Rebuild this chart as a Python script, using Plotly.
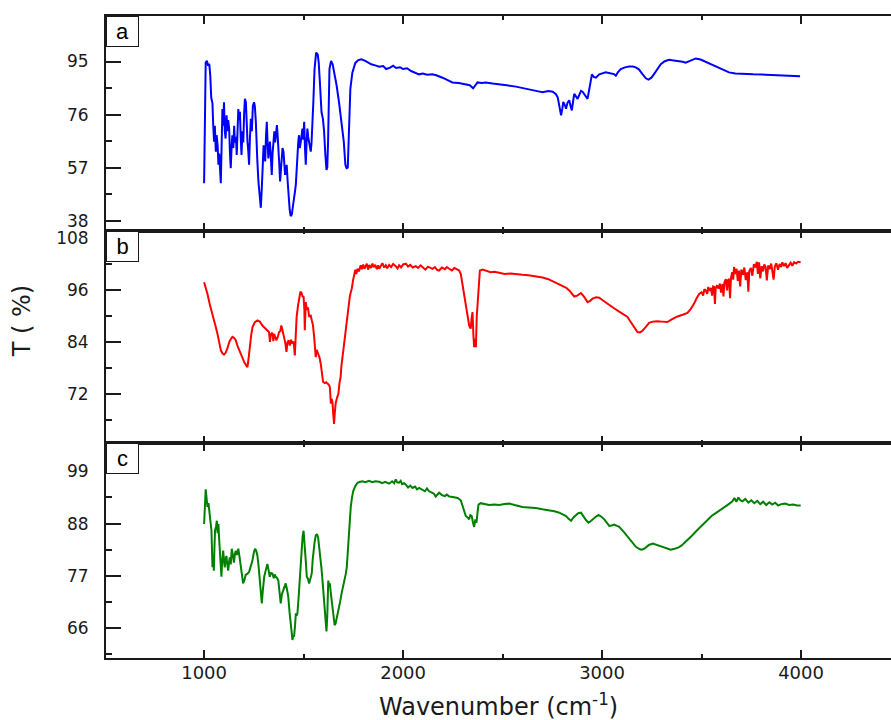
import plotly.graph_objects as go

# ---------------- data ----------------
wn_a = [1000,1003,1008,1014,1020,1026,1031,1036,1042,1046,1050,1054,1059,1063,1068,1072,1076,1084,1088,1092,
        1096,1100,1104,1108,1113,1117,1121,1126,1130,1134,1138,1142,1147,1151,1155,1160,1164,1168,1172,1176,
        1180,1184,1188,1193,1197,1201,1205,1210,1214,1218,1222,1226,1230,1235,1240,1245,1251,1255,1260,1263,
        1267,1273,1280,1285,1290,1295,1299,1303,1307,1311,1315,1319,1323,1327,1331,1336,1340,1344,1348,1353,
        1357,1361,1366,1370,1374,1378,1382,1386,1390,1394,1399,1403,1407,1411,1415,1420,1424,1430,1435,1441,
        1446,1450,1456,1461,1465,1469,1473,1477,1481,1486,1490,1494,1498,1503,1507,1511,1515,1519,1523,1528,
        1532,1536,1540,1544,1549,1555,1563,1571,1576,1582,1590,1597,1603,1609,1615,1619,1623,1630,1638,1646,
        1655,1666,1678,1691,1702,1710,1716,1722,1727,1735,1745,1760,1775,1790,1810,1840,1860,1880,1900,1915,
        1935,1950,1965,1985,2000,2020,2040,2060,2080,2100,2120,2148,2170,2198,2220,2248,2280,2315,2335,2352,
        2362,2374,2395,2416,2450,2483,2520,2567,2610,2651,2680,2701,2730,2752,2768,2777,2786,2794,2800,2805,
        2812,2819,2826,2835,2842,2848,2854,2860,2868,2877,2885,2894,2902,2910,2918,2927,2933,2939,2949,2958,
        2969,2986,3018,3040,3060,3069,3080,3094,3115,3136,3155,3169,3185,3203,3220,3233,3248,3261,3278,3295,
        3315,3337,3360,3387,3405,3420,3445,3471,3495,3521,3545,3571,3600,3638,3670,3705,3760,3822,3870,3923,
        3960,3995]
t_a = [51.4,67,94.6,95.3,93.5,94.2,90,82,80,72,66.3,72,62.7,68.6,65,58,62,51.4,66,78,
       72,80.4,70,67.4,75.7,70,74,71,62,56.8,64,68.6,64,72,66,68,61.5,70,78,74,
       77,68,61.5,70,66,76,81.6,80.4,72,66.3,63,58,67,74.5,70,79,80.4,79,73.4,66,
       60.3,52,44,42.6,49.7,58,65,62,59.2,68,73.4,66,60.3,64,66.3,60,54.4,62,67.4,70,
       66,70,72.2,68,64,58,52,57,61.5,64,62.7,58,54.4,56,58,52,46.1,42,39.6,40.2,
       43,46.1,48,50.9,57,61.5,66,68.6,64,66.3,69,71,67,73.4,64,58,66,71,68,66.3,
       64,62.7,66,71,80.4,92.3,98.2,97.5,94.6,87.5,76.9,74.5,70,62,56.2,57,66.3,92.3,95.2,94,
       91,86.4,80.4,73.4,66.3,58,56.8,57,71,85.2,91,94.5,95.5,95.8,95.2,94,93.6,93.1,93.4,92.3,
       92.8,93.5,92.7,92.9,92.3,92.6,91.6,90.9,90.4,90.7,90.3,90.4,90,89.2,88.4,87.5,87.3,86.9,86.5,85.4,
       86.2,87.5,87.3,87.5,87.1,86.9,86.5,86,85.3,84.5,84.3,84,84.4,84.2,83.3,82.2,79,75.7,78,80.5,
       79.5,78.1,80.2,81.1,79,77.5,80.5,83.4,82.6,81.6,83,84.5,84.2,83.4,82.3,81.6,84,86.9,90.4,89.5,
       89.2,90.4,91.1,90.8,90.5,89.9,91.2,92.3,92.9,93.2,93.2,92.9,92.2,90.5,89,88.5,89.2,90.5,92.4,94,
       95.1,95.6,95.4,95.2,94.9,94.6,95.3,96.1,95.7,94.9,94.1,93.2,92.2,91.1,90.7,90.5,90.4,90.3,90.1,89.9,
       89.8,89.7]

wn_b = [1000,1008,1017,1030,1042,1050,1059,1068,1075,1084,1092,1100,1108,1117,1128,1142,1150,1159,1168,1176,
        1188,1201,1210,1218,1224,1230,1237,1243,1255,1268,1280,1293,1305,1318,1326,1331,1335,1343,1348,1352,
        1358,1363,1370,1377,1383,1388,1394,1402,1408,1414,1419,1425,1431,1437,1444,1450,1456,1460,1465,1472,
        1478,1484,1490,1495,1500,1504,1506,1509,1511,1516,1522,1528,1535,1541,1547,1553,1557,1561,1566,1575,
        1580,1586,1592,1598,1606,1614,1620,1627,1632,1635,1637,1641,1645,1649,1653,1657,1661,1668,1675,1680,
        1686,1690,1695,1702,1708,1714,1720,1726,1732,1737,1742,1748,1754,1760,1765,1771,1778,1787,1793,1800,
        1806,1812,1818,1824,1830,1838,1846,1852,1860,1868,1875,1880,1888,1896,1905,1913,1920,1930,1940,1950,
        1963,1972,1980,1990,2000,2014,2025,2036,2048,2064,2075,2088,2100,2112,2125,2136,2148,2160,2172,2181,
        2195,2210,2220,2232,2245,2258,2270,2282,2290,2295,2301,2307,2314,2320,2326,2332,2337,2340,2344,2349,
        2353,2357,2362,2366,2370,2375,2379,2383,2386,2400,2416,2440,2460,2483,2510,2540,2567,2600,2630,2651,
        2680,2701,2730,2752,2780,2802,2820,2835,2848,2860,2875,2894,2910,2927,2940,2952,2970,2986,3010,3036,
        3060,3086,3110,3128,3140,3153,3166,3178,3190,3203,3220,3236,3255,3278,3300,3328,3350,3379,3405,3429,
        3445,3462,3475,3488,3500,3508,3514,3521,3528,3534,3540,3547,3553,3558,3563,3567,3571,3578,3585,3592,
        3598,3605,3610,3615,3622,3628,3633,3638,3643,3648,3654,3659,3663,3670,3676,3682,3688,3694,3700,3708,
        3715,3722,3730,3735,3740,3748,3755,3763,3770,3778,3783,3789,3795,3802,3809,3815,3822,3828,3835,3842,
        3850,3856,3862,3868,3876,3884,3892,3900,3906,3915,3922,3930,3939,3948,3956,3965,3975,3985,3998]
t_b = [97.9,96.8,95.2,92.5,90.6,89.3,87.5,85.8,84.5,82.2,81.5,81.2,81.6,82.6,84.3,85.3,85.1,84.5,83.2,82.2,
       80.8,79.5,78.8,78.3,80.5,83.7,85.8,87.5,88.7,89.1,88.8,87.9,87.3,86.8,86.4,84.1,85.9,86.2,84.3,86,
       85.4,84.5,85.2,86.4,86.6,87.9,86.8,85.3,83.9,81.8,84,84.5,83.3,84.6,83.7,84.2,81,85,89.9,92.5,
       94.5,95.7,95.4,94.6,94.5,91.5,86.8,91,93.3,91.5,92.1,89.9,90.4,89.1,88,85.3,83.6,80.6,82.3,81.4,
       80.5,79.1,77,74.9,74.6,74.8,74.5,74.2,73.7,71.5,69.9,71,70.2,67.5,65.2,67.8,69.9,71.2,72.2,74.5,
       76,78.5,80.6,83,85.3,87.6,89.9,92.3,94.5,95.6,96.4,98.2,99.5,100.8,99.8,101,100.4,101.8,100.9,102,
       101,101.5,102.2,100.8,101.9,101.2,102.2,101.4,101.9,100.9,101.8,101,101.7,102.3,101.3,101.8,101.1,101.9,101.4,102.1,
       101.6,101.1,101.8,101.3,102,102.2,101.5,101.9,101.3,101.6,101.2,101.8,101.3,100.8,101.5,101.2,101,101.4,100.7,100.6,
       101.3,100.9,101.4,101,100.6,101.2,100.9,100.6,99.8,98.3,96.3,94.5,92.6,90.6,89,87.9,87.4,87.2,89.5,91,
       86,82.9,84.8,82.9,89.8,93,95.6,98.5,100.6,100.8,100.6,100.2,100.3,100,99.8,99.9,99.7,99.6,99.5,99.4,
       99.2,99,98.6,98.1,97.6,97.1,96.6,96,95.3,94.6,94.8,95.4,94.5,93.3,93.6,94.1,94.4,94.3,93.5,92.6,
       91.9,91.1,90.4,89.9,89,88,87.1,86.4,86.3,86.7,87.6,88.5,88.8,88.9,88.8,88.7,89.3,90,90.4,90.8,
       91.7,92.9,94.2,95.2,95.6,94.8,96.3,96,95.2,96.8,95.9,96.6,94.8,96.9,96.8,92.9,96.5,97.2,96.4,97.6,
       95.5,97.5,94.6,97.9,98.6,96,98.4,98.7,94.2,98.9,100.2,98.5,101.4,99.8,101,98.2,100.6,96.9,100.8,99.6,
       101.3,98.4,100.2,95.7,100.5,101.2,99.4,102.1,101.3,102.6,99.8,102.5,98.8,101.6,100.4,102,101.4,98.3,101.8,100.9,
       102.2,100.6,98.5,101.5,102.3,100.8,102.1,101.4,102.5,101.6,102.3,101.2,101.8,102.4,101.7,102.5,102.2,102.6,102.5]

wn_c = [1000,1003,1008,1012,1017,1022,1029,1033,1037,1040,1042,1046,1049,1052,1055,1060,1064,1068,1072,1076,
        1079,1083,1087,1091,1096,1100,1104,1108,1112,1116,1121,1125,1129,1134,1139,1144,1150,1155,1159,1165,
        1172,1178,1184,1190,1196,1203,1209,1217,1226,1235,1243,1250,1256,1262,1268,1274,1280,1285,1290,1295,
        1302,1310,1318,1324,1330,1336,1343,1350,1355,1360,1366,1373,1379,1385,1391,1397,1403,1410,1416,1423,
        1429,1435,1440,1444,1448,1452,1457,1461,1465,1469,1475,1481,1486,1490,1495,1500,1504,1508,1512,1516,
        1522,1528,1534,1541,1546,1550,1555,1561,1567,1573,1579,1585,1590,1595,1601,1607,1611,1615,1619,1622,
        1624,1628,1632,1637,1642,1646,1651,1656,1661,1668,1675,1683,1691,1699,1707,1712,1717,1722,1728,1732,
        1737,1743,1749,1760,1771,1785,1796,1810,1829,1845,1860,1880,1895,1910,1930,1945,1955,1963,1970,1980,
        1988,1995,2005,2014,2025,2036,2047,2060,2070,2081,2095,2110,2120,2131,2145,2155,2164,2172,2181,2195,
        2210,2220,2232,2250,2274,2290,2299,2307,2315,2324,2332,2338,2345,2350,2357,2363,2369,2374,2379,2390,
        2410,2432,2460,2483,2510,2533,2560,2600,2630,2667,2700,2734,2760,2785,2800,2819,2832,2844,2856,2869,
        2880,2894,2902,2910,2920,2932,2942,2952,2967,2982,2995,3011,3024,3036,3048,3061,3075,3086,3110,3130,
        3150,3170,3190,3200,3215,3235,3255,3275,3300,3325,3345,3365,3385,3400,3425,3450,3475,3500,3525,3550,
        3575,3600,3620,3640,3655,3665,3675,3685,3695,3705,3720,3735,3750,3765,3780,3795,3810,3825,3840,3855,
        3870,3885,3900,3920,3940,3960,3980,3998]
t_c = [87.9,91.7,95.2,93.5,91.5,92.3,89.4,88.5,86.5,82,78.8,81,78.1,83,86.5,87.4,88.6,86,87.9,84.5,
       81.7,79.5,76.8,80,82.3,80.2,78.8,80.5,81.2,79.7,78.1,79.8,80.9,79.4,82.7,81.5,79.8,81.6,82.3,81.4,
       82.7,81,78.8,76.8,75.4,76.2,77.2,77.4,77.8,79.1,80.2,81.9,82.7,82.3,81.2,79,76,73.2,71.2,73.8,
       76.8,78.2,79.5,78.2,76.8,77.6,77.5,76.5,77.3,76.8,76.6,76,73.5,71.2,73.1,74,74.6,75.4,74.3,72.6,
       69.5,67,64.5,63.5,64.4,64.2,66.5,69.1,68.6,69.1,72.5,76,80.5,83,85.3,86.5,84.6,82.3,79.5,76.8,
       76.4,75.4,76.2,77.5,80.5,82.3,84,85.5,85.8,85.1,83,80.9,78.5,76,73,70.5,67.5,65.3,68.5,74,
       76,75.1,75.4,73.3,71.2,69.5,67.4,66.6,67,68.2,69.5,71.4,73.3,74.8,76,77.4,78.8,82,85.8,88.8,
       91.5,93.4,94.8,95.9,96.6,96.8,96.9,96.7,97,96.7,96.9,96.8,96.5,96.8,96.4,96.9,96.5,97.3,96.7,96.6,
       97,96.3,96.5,96.2,95.6,96,95.5,95.8,95.2,95.5,95.1,94.8,95.4,94.8,94.5,94.3,93.7,94.2,94.5,94,
       93.8,94.1,93.7,93.6,93.4,92.9,91.6,90.4,89.6,89.3,88.9,89.8,89.6,88.5,87.3,88.9,88.2,90.3,92,92.3,
       92.1,91.9,92,91.9,92.1,92.2,91.9,91.5,91.4,91.3,91,90.8,90.6,90.3,90,89.6,89,88.6,89.3,89.8,
       90.2,90.3,89.9,89.3,88.7,88.2,88.5,88.9,89.4,89.8,89.5,88.9,88.2,87.5,87.6,87.8,87.5,87.3,86.2,85.1,
       84,83.1,82.6,82.5,82.8,83.5,83.8,83.5,83.1,82.8,82.5,82.7,83,83.4,84.3,85.4,86.5,87.5,88.6,89.6,
       90.3,91,91.5,92.2,92.7,93.4,92.6,93.5,92.9,92.7,93.2,92.4,92.9,92.3,92.8,92.1,92.6,91.9,92.5,92,
       92.4,91.8,92.1,92.2,91.9,92,91.8,91.8]

panel_labels = ["a", "b", "c"]
line_colors = ["#0000FF", "#FF0000", "#008000"]

x_major = [1000, 2000, 3000, 4000]
x_minor = [1500, 2500, 3500]
y_major = [[95, 76, 57, 38], [108, 96, 84, 72], [99, 88, 77, 66]]
y_minor = [[104.5, 85.5, 66.5, 47.5], [102, 90, 78, 66], [93.5, 82.5, 71.5, 60.5]]
y_ranges = [[34.4, 111.3], [60.7, 109.8], [59.7, 104.9]]
x_range = [507, 4452]

x_title = "Wavenumber (cm<sup>-1</sup>)"
y_title = "T ( %)"

# ---------------- figure ----------------
FONT = "DejaVu Sans, Liberation Sans, Arial, sans-serif"
AX = "#1a1a1a"
domains = [[0.6656, 1.0], [0.3344, 0.6656], [0.0, 0.3344]]
series = [(wn_a, t_a), (wn_b, t_b), (wn_c, t_c)]

fig = go.Figure()
layout = dict(
    width=891, height=720,
    margin=dict(l=106, r=0, t=16, b=62),
    paper_bgcolor="white", plot_bgcolor="white",
    showlegend=False,
    font=dict(family=FONT, color="#1a1a1a"),
)

for i in range(3):
    n = i + 1
    xs = "x" if n == 1 else f"x{n}"
    ys = "y" if n == 1 else f"y{n}"
    wn, tv = series[i]
    fig.add_trace(go.Scatter(x=wn, y=tv, mode="lines", xaxis=xs, yaxis=ys,
                             line=dict(color=line_colors[i], width=2), hoverinfo="skip"))
    xkey = "xaxis" if n == 1 else f"xaxis{n}"
    ykey = "yaxis" if n == 1 else f"yaxis{n}"
    layout[xkey] = dict(
        domain=[0, 1], anchor=ys, range=x_range, showgrid=False, zeroline=False,
        showline=True, linecolor=AX, linewidth=1.5, mirror="ticks",
        ticks="inside", ticklen=8, tickwidth=2, tickcolor=AX,
        tickvals=x_major, showticklabels=(n == 3),
        ticklabelstandoff=-2,
        tickfont=dict(size=18, family=FONT, color="#1a1a1a"),
        minor=dict(tickvals=x_minor, ticks="inside", ticklen=4, tickwidth=1.5, tickcolor=AX),
    )
    layout[ykey] = dict(
        domain=domains[i], anchor=xs, range=y_ranges[i], showgrid=False, zeroline=False,
        showline=True, linecolor=AX, linewidth=2, mirror=False,
        ticks="inside", ticklen=15, tickwidth=1.5, tickcolor=AX,
        tickvals=y_major[i], ticklabelstandoff=12,
        tickfont=dict(size=17, family=FONT, color="#1a1a1a"),
        minor=dict(tickvals=y_minor[i], ticks="inside", ticklen=6, tickwidth=1.5, tickcolor=AX),
    )
    # right-hand (clipped) axis ticks
    rkey = f"yaxis{n + 3}"
    layout[rkey] = dict(
        domain=domains[i], anchor=xs, overlaying=ys, side="right", range=y_ranges[i],
        showgrid=False, zeroline=False, showline=False, showticklabels=False,
        ticks="inside", ticklen=4, tickwidth=1.5, tickcolor=AX, tickvals=y_major[i],
    )

fig.update_layout(**layout)

annotations = []
for i, lab in enumerate(panel_labels):
    n = i + 1
    xs = "x" if n == 1 else f"x{n}"
    ys = "y" if n == 1 else f"y{n}"
    annotations.append(dict(
        text=lab, xref=f"{xs} domain", yref=f"{ys} domain", x=0, y=1,
        xanchor="left", yanchor="top", showarrow=False,
        width=31, height=29, borderpad=0, bordercolor=AX, borderwidth=1,
        bgcolor="white", font=dict(size=22, family="Liberation Sans, Arial, sans-serif", color="black"),
    ))
annotations.append(dict(
    text=x_title, xref="paper", yref="paper", x=0.5, y=-0.0725,
    xanchor="center", yanchor="middle", showarrow=False,
    font=dict(size=24, family=FONT, color="#1a1a1a"),
))
annotations.append(dict(
    text=y_title, xref="paper", yref="paper", x=-0.107, y=0.5246,
    xanchor="center", yanchor="middle", showarrow=False, textangle=-90,
    font=dict(size=24, family=FONT, color="#1a1a1a"),
))
fig.update_layout(annotations=annotations)

fig.write_html("out.html", config={"displayModeBar": False},
               post_script="document.body.style.margin='0px';")
